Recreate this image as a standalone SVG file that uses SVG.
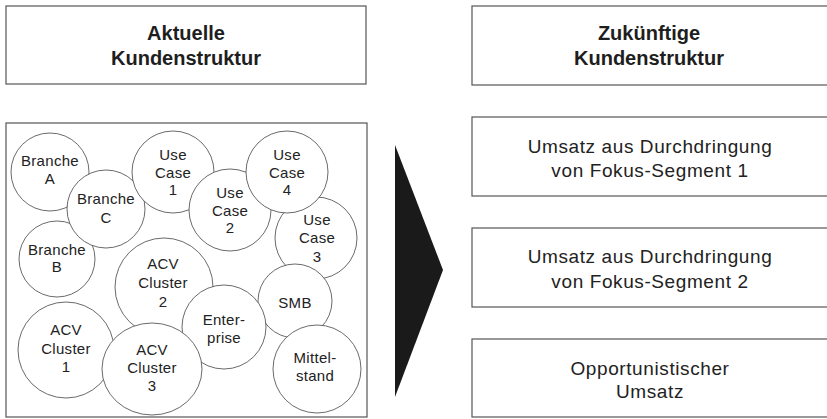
<svg xmlns="http://www.w3.org/2000/svg" width="827" height="419" viewBox="0 0 827 419">
<style>
.box{fill:#fff;stroke:#555;stroke-width:1.2}
.c{fill:#fff;stroke:#444;stroke-width:0.8}
.h{font-family:"Liberation Sans",Arial,sans-serif;font-weight:bold;font-size:20px;fill:#1e1e1e;text-anchor:middle}
.t{font-family:"Liberation Sans",Arial,sans-serif;font-size:15px;fill:#222;text-anchor:middle;letter-spacing:0.3px}
.r{font-family:"Liberation Sans",Arial,sans-serif;font-size:19px;fill:#222;text-anchor:middle;letter-spacing:0.6px}
</style>
<rect width="827" height="419" fill="#fff"/>
<g id="header-left"><rect class="box" x="6" y="6" width="360" height="78"/><text class="h" x="186" y="40">Aktuelle</text><text class="h" x="186" y="65">Kundenstruktur</text></g>
<g id="header-right"><rect class="box" x="472" y="6" width="360" height="79"/><text class="h" x="649" y="40">Zukünftige</text><text class="h" x="649" y="65">Kundenstruktur</text></g>
<g id="current-structure"><rect class="box" x="6" y="123" width="361" height="294"/></g>
<g id="branche-b"><circle class="c" cx="57" cy="259" r="38"/><text class="t" x="57" y="255">Branche</text><text class="t" x="57" y="272">B</text></g>
<g id="branche-a"><circle class="c" cx="50" cy="172" r="39"/><text class="t" x="50" y="166">Branche</text><text class="t" x="50" y="184">A</text></g>
<g id="branche-c"><circle class="c" cx="106" cy="209" r="39"/><text class="t" x="106" y="204">Branche</text><text class="t" x="106" y="223">C</text></g>
<g id="use-case-1"><circle class="c" cx="173" cy="172" r="41"/><text class="t" x="173" y="160">Use</text><text class="t" x="173" y="178">Case</text><text class="t" x="173" y="195">1</text></g>
<g id="use-case-2"><circle class="c" cx="230" cy="210" r="41"/><text class="t" x="230" y="198">Use</text><text class="t" x="230" y="216">Case</text><text class="t" x="230" y="233">2</text></g>
<g id="use-case-3"><circle class="c" cx="316" cy="238" r="41"/><text class="t" x="317" y="225">Use</text><text class="t" x="317" y="243">Case</text><text class="t" x="317" y="262">3</text></g>
<g id="use-case-4"><circle class="c" cx="287" cy="172" r="41"/><text class="t" x="287" y="160">Use</text><text class="t" x="287" y="178">Case</text><text class="t" x="287" y="195">4</text></g>
<g id="acv-cluster-2"><circle class="c" cx="164" cy="287" r="49"/><text class="t" x="163" y="269">ACV</text><text class="t" x="163" y="288">Cluster</text><text class="t" x="163" y="307">2</text></g>
<g id="smb"><circle class="c" cx="295" cy="301" r="37"/><text class="t" x="295" y="308">SMB</text></g>
<g id="enterprise"><circle class="c" cx="224" cy="327" r="42"/><text class="t" x="224" y="325">Enter-</text><text class="t" x="224" y="343">prise</text></g>
<g id="acv-cluster-1"><circle class="c" cx="66" cy="350" r="48"/><text class="t" x="66" y="335">ACV</text><text class="t" x="66" y="354">Cluster</text><text class="t" x="66" y="372">1</text></g>
<g id="acv-cluster-3"><ellipse class="c" cx="152" cy="369" rx="50" ry="46"/><text class="t" x="152" y="355">ACV</text><text class="t" x="152" y="373">Cluster</text><text class="t" x="152" y="391">3</text></g>
<g id="mittelstand"><circle class="c" cx="317" cy="369" r="44"/><text class="t" x="315" y="363">Mittel-</text><text class="t" x="315" y="381">stand</text></g>
<g id="connectors"><polygon points="395,145 443,270 395,397" fill="#1a1a1a"/></g>
<g id="segment-1"><rect class="box" x="472" y="117" width="360" height="79"/><text class="r" x="650" y="153">Umsatz aus Durchdringung</text><text class="r" x="650" y="177">von Fokus-Segment 1</text></g>
<g id="segment-2"><rect class="box" x="472" y="228" width="360" height="79"/><text class="r" x="650" y="263">Umsatz aus Durchdringung</text><text class="r" x="650" y="288">von Fokus-Segment 2</text></g>
<g id="opportunistic"><rect class="box" x="472" y="339" width="360" height="78"/><text class="r" x="650" y="375">Opportunistischer</text><text class="r" x="650" y="398">Umsatz</text></g>
</svg>
